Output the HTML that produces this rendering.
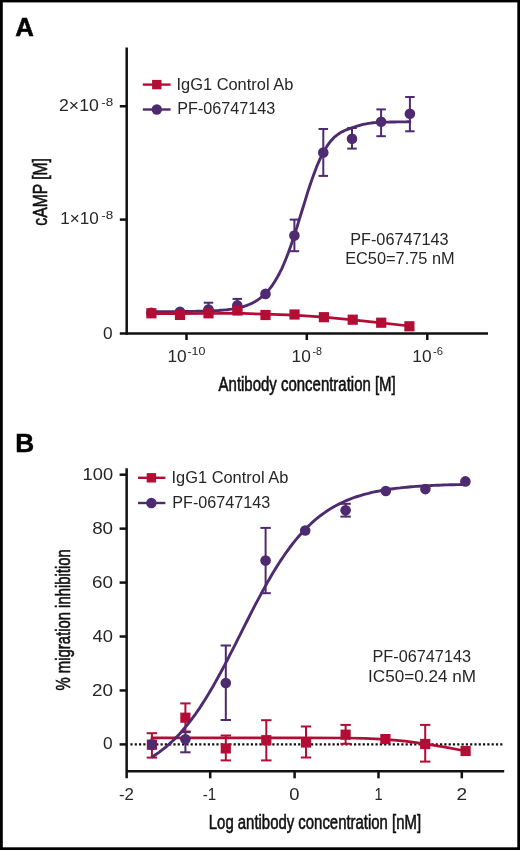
<!DOCTYPE html>
<html lang="en"><head><meta charset="utf-8"><title>Figure</title>
<style>
html,body{margin:0;padding:0;background:#000;}
body{width:520px;height:850px;overflow:hidden;}
svg{display:block;}
text{font-family:"Liberation Sans",Arial,Helvetica,sans-serif;fill:#262626;}
.t{font-size:15px;}
.s{font-size:11px;}
.c{font-size:19px;fill:#111;stroke:#111;stroke-width:0.6px;}
.p{font-size:25px;font-weight:bold;fill:#000;stroke:#000;stroke-width:0.5px;}
</style></head><body>
<svg width="520" height="850" viewBox="0 0 520 850" style="will-change:transform">
<rect x="0" y="0" width="520" height="850" fill="#000"/>
<rect x="2.8" y="2.4" width="514.5" height="844.9" fill="#fff"/>

<text class="p" style="font-size:25px" x="15.35" y="35.8" textLength="18.65" lengthAdjust="spacingAndGlyphs">A</text>
<line x1="208.5" y1="302.7" x2="208.5" y2="313" stroke="#4E2A70" stroke-width="2"/>
<line x1="203.75" y1="302.7" x2="213.25" y2="302.7" stroke="#4E2A70" stroke-width="2"/>
<line x1="203.75" y1="313" x2="213.25" y2="313" stroke="#4E2A70" stroke-width="2"/>
<line x1="237.3" y1="298.9" x2="237.3" y2="311" stroke="#4E2A70" stroke-width="2"/>
<line x1="232.55" y1="298.9" x2="242.05" y2="298.9" stroke="#4E2A70" stroke-width="2"/>
<line x1="232.55" y1="311" x2="242.05" y2="311" stroke="#4E2A70" stroke-width="2"/>
<line x1="294.4" y1="219.6" x2="294.4" y2="251.2" stroke="#4E2A70" stroke-width="2"/>
<line x1="289.65" y1="219.6" x2="299.15" y2="219.6" stroke="#4E2A70" stroke-width="2"/>
<line x1="289.65" y1="251.2" x2="299.15" y2="251.2" stroke="#4E2A70" stroke-width="2"/>
<line x1="323.3" y1="129" x2="323.3" y2="175.9" stroke="#4E2A70" stroke-width="2"/>
<line x1="318.55" y1="129" x2="328.05" y2="129" stroke="#4E2A70" stroke-width="2"/>
<line x1="318.55" y1="175.9" x2="328.05" y2="175.9" stroke="#4E2A70" stroke-width="2"/>
<line x1="352" y1="128" x2="352" y2="148.6" stroke="#4E2A70" stroke-width="2"/>
<line x1="347.25" y1="128" x2="356.75" y2="128" stroke="#4E2A70" stroke-width="2"/>
<line x1="347.25" y1="148.6" x2="356.75" y2="148.6" stroke="#4E2A70" stroke-width="2"/>
<line x1="381.1" y1="109.4" x2="381.1" y2="136.2" stroke="#4E2A70" stroke-width="2"/>
<line x1="376.35" y1="109.4" x2="385.85" y2="109.4" stroke="#4E2A70" stroke-width="2"/>
<line x1="376.35" y1="136.2" x2="385.85" y2="136.2" stroke="#4E2A70" stroke-width="2"/>
<line x1="409.9" y1="97" x2="409.9" y2="131.3" stroke="#4E2A70" stroke-width="2"/>
<line x1="405.15" y1="97" x2="414.65" y2="97" stroke="#4E2A70" stroke-width="2"/>
<line x1="405.15" y1="131.3" x2="414.65" y2="131.3" stroke="#4E2A70" stroke-width="2"/>
<polyline points="151.2,311.7 153.4,311.7 155.6,311.7 157.8,311.7 159.9,311.7 162.1,311.6 164.3,311.6 166.5,311.6 168.6,311.6 170.8,311.6 173.0,311.6 175.2,311.6 177.3,311.6 179.5,311.6 181.7,311.5 183.9,311.5 186.0,311.5 188.2,311.5 190.4,311.5 192.5,311.4 194.7,311.4 196.9,311.3 199.1,311.3 201.2,311.2 203.4,311.2 205.6,311.1 207.8,311.0 209.9,311.0 212.1,310.9 214.3,310.7 216.5,310.6 218.6,310.5 220.8,310.3 223.0,310.1 225.1,309.9 227.3,309.7 229.5,309.4 231.7,309.1 233.8,308.7 236.0,308.3 238.2,307.9 240.4,307.4 242.5,306.8 244.7,306.1 246.9,305.4 249.1,304.5 251.2,303.6 253.4,302.5 255.6,301.3 257.8,299.9 259.9,298.4 262.1,296.6 264.3,294.7 266.4,292.5 268.6,290.1 270.8,287.4 273.0,284.3 275.1,281.0 277.3,277.3 279.5,273.2 281.7,268.8 283.8,264.0 286.0,258.7 288.2,253.1 290.4,247.1 292.5,240.8 294.7,234.2 296.9,227.4 299.0,220.4 301.2,213.3 303.4,206.2 305.6,199.1 307.7,192.2 309.9,185.5 312.1,179.1 314.3,173.1 316.4,167.4 318.6,162.2 320.8,157.4 323.0,153.1 325.1,149.2 327.3,145.7 329.5,142.7 331.7,140.0 333.8,137.7 336.0,135.8 338.2,134.2 340.3,132.8 342.5,131.6 344.7,130.5 346.9,129.6 349.0,128.8 351.2,128.0 353.4,127.3 355.6,126.6 357.7,125.9 359.9,125.3 362.1,124.7 364.3,124.2 366.4,123.8 368.6,123.4 370.8,123.1 372.9,122.8 375.1,122.6 377.3,122.5 379.5,122.4 381.6,122.3 383.8,122.2 386.0,122.1 388.2,122.1 390.3,122.0 392.5,122.0 394.7,122.0 396.9,121.9 399.0,121.9 401.2,121.9 403.4,121.9 405.6,121.9 407.7,121.8 409.9,121.8" fill="none" stroke="#4E2A70" stroke-width="2.9" stroke-linejoin="round" stroke-linecap="round"/>
<circle cx="151.4" cy="312.8" r="5.3" fill="#4E2A70"/>
<circle cx="180" cy="311.7" r="5.3" fill="#4E2A70"/>
<circle cx="208.5" cy="309.6" r="5.3" fill="#4E2A70"/>
<circle cx="237.3" cy="305.4" r="5.3" fill="#4E2A70"/>
<circle cx="265.5" cy="293.9" r="5.3" fill="#4E2A70"/>
<circle cx="294.4" cy="235.6" r="5.3" fill="#4E2A70"/>
<circle cx="323.3" cy="152.6" r="5.3" fill="#4E2A70"/>
<circle cx="352" cy="138.8" r="5.3" fill="#4E2A70"/>
<circle cx="381.1" cy="121.8" r="5.3" fill="#4E2A70"/>
<circle cx="409.9" cy="113.7" r="5.3" fill="#4E2A70"/>
<polyline points="151.2,313.6 180.0,313.7 208.5,313.5 236.5,313.2 265.5,314.2 294.5,315.2 323.9,317.2 352.7,319.8 381.2,322.8 409.4,326.0" fill="none" stroke="#B30D36" stroke-width="2.7" stroke-linejoin="round" stroke-linecap="round"/>
<rect x="146.30" y="308.20" width="10.2" height="10.2" fill="#B30D36"/>
<rect x="174.90" y="309.80" width="10.2" height="10.2" fill="#B30D36"/>
<rect x="203.40" y="308.20" width="10.2" height="10.2" fill="#B30D36"/>
<rect x="232.40" y="305.40" width="10.2" height="10.2" fill="#B30D36"/>
<rect x="260.40" y="309.90" width="10.2" height="10.2" fill="#B30D36"/>
<rect x="289.40" y="309.40" width="10.2" height="10.2" fill="#B30D36"/>
<rect x="318.80" y="312.10" width="10.2" height="10.2" fill="#B30D36"/>
<rect x="347.60" y="314.60" width="10.2" height="10.2" fill="#B30D36"/>
<rect x="376.10" y="317.60" width="10.2" height="10.2" fill="#B30D36"/>
<rect x="404.30" y="321.20" width="10.2" height="10.2" fill="#B30D36"/>
<line x1="126.7" y1="47.5" x2="126.7" y2="334.75" stroke="#111" stroke-width="2.5"/>
<line x1="119.8" y1="333.5" x2="488" y2="333.5" stroke="#111" stroke-width="2.5"/>
<line x1="119.8" y1="106.25" x2="126.7" y2="106.25" stroke="#111" stroke-width="2.5"/>
<line x1="119.8" y1="219.6" x2="126.7" y2="219.6" stroke="#111" stroke-width="2.5"/>
<line x1="186.5" y1="333.5" x2="186.5" y2="340" stroke="#111" stroke-width="2.5"/>
<line x1="306.8" y1="333.5" x2="306.8" y2="340" stroke="#111" stroke-width="2.5"/>
<line x1="427.3" y1="333.5" x2="427.3" y2="340" stroke="#111" stroke-width="2.5"/>
<text class="t" style="font-size:15.6px" x="59.02" y="111.0" textLength="39.74" lengthAdjust="spacingAndGlyphs">2×10</text>
<text class="s" style="font-size:10.6px" x="101.30" y="106.0" textLength="11.93" lengthAdjust="spacingAndGlyphs">-8</text>
<text class="t" style="font-size:15.6px" x="60.22" y="224.4" textLength="38.52" lengthAdjust="spacingAndGlyphs">1×10</text>
<text class="s" style="font-size:10.6px" x="101.30" y="219.4" textLength="11.93" lengthAdjust="spacingAndGlyphs">-8</text>
<text class="t" style="font-size:15.6px" x="102.91" y="338.7" textLength="9.62" lengthAdjust="spacingAndGlyphs">0</text>
<text class="t" style="font-size:16px" x="167.40" y="362.1" textLength="19.24" lengthAdjust="spacingAndGlyphs">10</text>
<text class="s" style="font-size:10.6px" x="187.44" y="354.70000000000005" textLength="18.00" lengthAdjust="spacingAndGlyphs">-10</text>
<text class="t" style="font-size:16px" x="291.60" y="362.1" textLength="19.24" lengthAdjust="spacingAndGlyphs">10</text>
<text class="s" style="font-size:10.6px" x="312.42" y="354.70000000000005" textLength="9.50" lengthAdjust="spacingAndGlyphs">-8</text>
<text class="t" style="font-size:16px" x="412.30" y="362.1" textLength="19.24" lengthAdjust="spacingAndGlyphs">10</text>
<text class="s" style="font-size:10.6px" x="433.00" y="354.70000000000005" textLength="9.94" lengthAdjust="spacingAndGlyphs">-6</text>
<text class="c" style="font-size:19.6px" x="218.60" y="390.7" textLength="177.12" lengthAdjust="spacingAndGlyphs">Antibody concentration [M]</text>
<text class="c" style="font-size:19.6px" transform="translate(46.8,225) rotate(-90)" x="-0.63" y="0" textLength="67.53" lengthAdjust="spacingAndGlyphs">cAMP [M]</text>
<line x1="142.8" y1="84.6" x2="170.6" y2="84.6" stroke="#B30D36" stroke-width="2.4"/>
<rect x="152.10" y="79.90" width="9.4" height="9.4" fill="#B30D36"/>
<line x1="142.8" y1="109.5" x2="170.6" y2="109.5" stroke="#4E2A70" stroke-width="2.4"/>
<circle cx="156.8" cy="109.5" r="5.2" fill="#4E2A70"/>
<text class="t" style="font-size:16px" x="176.52" y="90" textLength="116.74" lengthAdjust="spacingAndGlyphs">IgG1 Control Ab</text>
<text class="t" style="font-size:16px" x="177.31" y="114.2" textLength="97.94" lengthAdjust="spacingAndGlyphs">PF-06747143</text>
<text class="t" style="font-size:16px" x="350.20" y="244.5" textLength="98.45" lengthAdjust="spacingAndGlyphs">PF-06747143</text>
<text class="t" style="font-size:16px" x="345.19" y="263.5" textLength="109.38" lengthAdjust="spacingAndGlyphs">EC50=7.75 nM</text>
<text class="p" style="font-size:25px" x="15.20" y="451.9" textLength="18.94" lengthAdjust="spacingAndGlyphs">B</text>
<line x1="130.4" y1="744.4" x2="503" y2="744.4" stroke="#111" stroke-width="2.2" stroke-dasharray="2.2 2.1"/>
<line x1="151.9" y1="733.2" x2="151.9" y2="757.6" stroke="#B30D36" stroke-width="2"/>
<line x1="146.70000000000002" y1="733.2" x2="157.1" y2="733.2" stroke="#B30D36" stroke-width="2"/>
<line x1="146.70000000000002" y1="757.6" x2="157.1" y2="757.6" stroke="#B30D36" stroke-width="2"/>
<line x1="185.4" y1="703.4" x2="185.4" y2="731.5" stroke="#B30D36" stroke-width="2"/>
<line x1="180.20000000000002" y1="703.4" x2="190.6" y2="703.4" stroke="#B30D36" stroke-width="2"/>
<line x1="180.20000000000002" y1="731.5" x2="190.6" y2="731.5" stroke="#B30D36" stroke-width="2"/>
<line x1="225.8" y1="735.5" x2="225.8" y2="760.4" stroke="#B30D36" stroke-width="2"/>
<line x1="220.60000000000002" y1="735.5" x2="231.0" y2="735.5" stroke="#B30D36" stroke-width="2"/>
<line x1="220.60000000000002" y1="760.4" x2="231.0" y2="760.4" stroke="#B30D36" stroke-width="2"/>
<line x1="266.3" y1="720.2" x2="266.3" y2="760.4" stroke="#B30D36" stroke-width="2"/>
<line x1="261.1" y1="720.2" x2="271.5" y2="720.2" stroke="#B30D36" stroke-width="2"/>
<line x1="261.1" y1="760.4" x2="271.5" y2="760.4" stroke="#B30D36" stroke-width="2"/>
<line x1="306" y1="726.5" x2="306" y2="757.5" stroke="#B30D36" stroke-width="2"/>
<line x1="300.8" y1="726.5" x2="311.2" y2="726.5" stroke="#B30D36" stroke-width="2"/>
<line x1="300.8" y1="757.5" x2="311.2" y2="757.5" stroke="#B30D36" stroke-width="2"/>
<line x1="345.6" y1="724.9" x2="345.6" y2="743.8" stroke="#B30D36" stroke-width="2"/>
<line x1="340.40000000000003" y1="724.9" x2="350.8" y2="724.9" stroke="#B30D36" stroke-width="2"/>
<line x1="340.40000000000003" y1="743.8" x2="350.8" y2="743.8" stroke="#B30D36" stroke-width="2"/>
<line x1="425.2" y1="724.9" x2="425.2" y2="761.6" stroke="#B30D36" stroke-width="2"/>
<line x1="420.0" y1="724.9" x2="430.4" y2="724.9" stroke="#B30D36" stroke-width="2"/>
<line x1="420.0" y1="761.6" x2="430.4" y2="761.6" stroke="#B30D36" stroke-width="2"/>
<polyline points="151.9,737.9 306.0,737.9 345.6,738.0 365.0,738.4 385.4,739.4 405.0,741.2 425.2,743.9 445.0,747.2 465.6,751.0" fill="none" stroke="#B30D36" stroke-width="2.7" stroke-linejoin="round" stroke-linecap="round"/>
<rect x="146.80" y="739.60" width="10.2" height="10.2" fill="#B30D36"/>
<rect x="180.30" y="712.60" width="10.2" height="10.2" fill="#B30D36"/>
<rect x="220.70" y="743.30" width="10.2" height="10.2" fill="#B30D36"/>
<rect x="261.20" y="735.10" width="10.2" height="10.2" fill="#B30D36"/>
<rect x="300.90" y="737.40" width="10.2" height="10.2" fill="#B30D36"/>
<rect x="340.50" y="729.60" width="10.2" height="10.2" fill="#B30D36"/>
<rect x="380.30" y="734.00" width="10.2" height="10.2" fill="#B30D36"/>
<rect x="420.10" y="738.90" width="10.2" height="10.2" fill="#B30D36"/>
<rect x="460.50" y="745.90" width="10.2" height="10.2" fill="#B30D36"/>
<line x1="185.4" y1="732.2" x2="185.4" y2="752.3" stroke="#4E2A70" stroke-width="2"/>
<line x1="180.20000000000002" y1="732.2" x2="190.6" y2="732.2" stroke="#4E2A70" stroke-width="2"/>
<line x1="180.20000000000002" y1="752.3" x2="190.6" y2="752.3" stroke="#4E2A70" stroke-width="2"/>
<line x1="225.8" y1="645.5" x2="225.8" y2="720" stroke="#4E2A70" stroke-width="2"/>
<line x1="220.60000000000002" y1="645.5" x2="231.0" y2="645.5" stroke="#4E2A70" stroke-width="2"/>
<line x1="220.60000000000002" y1="720" x2="231.0" y2="720" stroke="#4E2A70" stroke-width="2"/>
<line x1="265.6" y1="527.9" x2="265.6" y2="593.2" stroke="#4E2A70" stroke-width="2"/>
<line x1="260.40000000000003" y1="527.9" x2="270.8" y2="527.9" stroke="#4E2A70" stroke-width="2"/>
<line x1="260.40000000000003" y1="593.2" x2="270.8" y2="593.2" stroke="#4E2A70" stroke-width="2"/>
<line x1="345.6" y1="503.8" x2="345.6" y2="516.6" stroke="#4E2A70" stroke-width="2"/>
<line x1="340.40000000000003" y1="503.8" x2="350.8" y2="503.8" stroke="#4E2A70" stroke-width="2"/>
<line x1="340.40000000000003" y1="516.6" x2="350.8" y2="516.6" stroke="#4E2A70" stroke-width="2"/>
<polyline points="152.5,756.7 154.8,755.2 157.0,753.7 159.3,752.1 161.5,750.4 163.8,748.7 166.0,746.8 168.3,744.9 170.5,742.9 172.8,740.8 175.0,738.6 177.3,736.3 179.5,733.9 181.8,731.4 184.0,728.8 186.3,726.1 188.5,723.3 190.8,720.4 193.0,717.4 195.3,714.3 197.5,711.1 199.8,707.8 202.0,704.4 204.3,700.8 206.5,697.2 208.8,693.5 211.0,689.7 213.3,685.9 215.5,681.9 217.8,677.8 220.0,673.7 222.3,669.5 224.5,665.3 226.8,661.0 229.0,656.6 231.3,652.2 233.5,647.8 235.8,643.4 238.0,638.9 240.3,634.4 242.5,629.9 244.8,625.4 247.0,621.0 249.3,616.5 251.5,612.1 253.8,607.7 256.0,603.4 258.3,599.1 260.6,594.9 262.8,590.7 265.1,586.6 267.3,582.6 269.6,578.7 271.8,574.8 274.1,571.1 276.3,567.4 278.6,563.8 280.8,560.4 283.1,557.0 285.3,553.7 287.6,550.6 289.8,547.5 292.1,544.5 294.3,541.7 296.6,538.9 298.8,536.3 301.1,533.7 303.3,531.3 305.6,528.9 307.8,526.6 310.1,524.5 312.3,522.4 314.6,520.4 316.8,518.5 319.1,516.7 321.3,515.0 323.6,513.4 325.8,511.8 328.1,510.3 330.3,508.9 332.6,507.5 334.8,506.2 337.1,505.0 339.3,503.9 341.6,502.7 343.8,501.7 346.1,500.7 348.3,499.8 350.6,498.9 352.8,498.0 355.1,497.2 357.3,496.5 359.6,495.8 361.9,495.1 364.1,494.4 366.4,493.8 368.6,493.3 370.9,492.7 373.1,492.2 375.4,491.7 377.6,491.3 379.9,490.8 382.1,490.4 384.4,490.0 386.6,489.7 388.9,489.3 391.1,489.0 393.4,488.7 395.6,488.4 397.9,488.1 400.1,487.9 402.4,487.6 404.6,487.4 406.9,487.2 409.1,487.0 411.4,486.8 413.6,486.6 415.9,486.4 418.1,486.3 420.4,486.1 422.6,486.0 424.9,485.9 427.1,485.7 429.4,485.6 431.6,485.5 433.9,485.4 436.1,485.3 438.4,485.2 440.6,485.1 442.9,485.0 445.1,484.9 447.4,484.9 449.6,484.8 451.9,484.7 454.1,484.7 456.4,484.6 458.6,484.6 460.9,484.5 463.1,484.5 465.4,484.4" fill="none" stroke="#4E2A70" stroke-width="2.9" stroke-linejoin="round" stroke-linecap="round"/>
<circle cx="185.4" cy="739.2" r="5.3" fill="#4E2A70"/>
<circle cx="225.8" cy="683" r="5.3" fill="#4E2A70"/>
<circle cx="265.6" cy="560.6" r="5.3" fill="#4E2A70"/>
<circle cx="305.2" cy="530.5" r="5.3" fill="#4E2A70"/>
<circle cx="345.6" cy="510.2" r="5.3" fill="#4E2A70"/>
<circle cx="385.8" cy="491" r="5.3" fill="#4E2A70"/>
<circle cx="425.4" cy="489.1" r="5.3" fill="#4E2A70"/>
<circle cx="465.4" cy="481.4" r="5.3" fill="#4E2A70"/>
<rect x="147.3" y="739.5" width="9.4" height="10.2" rx="3" fill="#4E2A70"/>
<line x1="126.65" y1="468.2" x2="126.65" y2="778.3" stroke="#111" stroke-width="2.5"/>
<line x1="126.65" y1="771.35" x2="504.2" y2="771.35" stroke="#111" stroke-width="2.5"/>
<line x1="119.6" y1="474.7" x2="126.65" y2="474.7" stroke="#111" stroke-width="2.5"/>
<line x1="119.6" y1="528.64" x2="126.65" y2="528.64" stroke="#111" stroke-width="2.5"/>
<line x1="119.6" y1="582.5799999999999" x2="126.65" y2="582.5799999999999" stroke="#111" stroke-width="2.5"/>
<line x1="119.6" y1="636.52" x2="126.65" y2="636.52" stroke="#111" stroke-width="2.5"/>
<line x1="119.6" y1="690.46" x2="126.65" y2="690.46" stroke="#111" stroke-width="2.5"/>
<line x1="119.6" y1="744.4" x2="126.65" y2="744.4" stroke="#111" stroke-width="2.5"/>
<line x1="210.2" y1="771.35" x2="210.2" y2="778.3" stroke="#111" stroke-width="2.5"/>
<line x1="294.6" y1="771.35" x2="294.6" y2="778.3" stroke="#111" stroke-width="2.5"/>
<line x1="378.5" y1="771.35" x2="378.5" y2="778.3" stroke="#111" stroke-width="2.5"/>
<line x1="461.8" y1="771.35" x2="461.8" y2="778.3" stroke="#111" stroke-width="2.5"/>
<text class="t" style="font-size:15.8px" x="82.63" y="479.7" textLength="30.47" lengthAdjust="spacingAndGlyphs">100</text>
<text class="t" style="font-size:15.8px" x="92.15" y="533.6" textLength="20.95" lengthAdjust="spacingAndGlyphs">80</text>
<text class="t" style="font-size:15.8px" x="92.05" y="587.6" textLength="21.05" lengthAdjust="spacingAndGlyphs">60</text>
<text class="t" style="font-size:15.8px" x="92.63" y="641.5" textLength="20.45" lengthAdjust="spacingAndGlyphs">40</text>
<text class="t" style="font-size:15.8px" x="92.05" y="695.5" textLength="21.05" lengthAdjust="spacingAndGlyphs">20</text>
<text class="t" style="font-size:15.8px" x="102.91" y="749.4" textLength="9.62" lengthAdjust="spacingAndGlyphs">0</text>
<text class="t" style="font-size:15.8px" x="118.94" y="799.8" textLength="14.99" lengthAdjust="spacingAndGlyphs">-2</text>
<text class="t" style="font-size:15.8px" x="202.82" y="799.8" textLength="13.45" lengthAdjust="spacingAndGlyphs">-1</text>
<text class="t" style="font-size:15.8px" x="289.27" y="799.8" textLength="10.20" lengthAdjust="spacingAndGlyphs">0</text>
<text class="t" style="font-size:15.8px" x="374.50" y="799.8" textLength="8.18" lengthAdjust="spacingAndGlyphs">1</text>
<text class="t" style="font-size:15.8px" x="456.54" y="799.8" textLength="10.63" lengthAdjust="spacingAndGlyphs">2</text>
<text class="c" style="font-size:19.6px" x="208.81" y="829.3" textLength="212.26" lengthAdjust="spacingAndGlyphs">Log antibody concentration [nM]</text>
<text class="c" style="font-size:19.6px" transform="translate(70,690) rotate(-90)" x="-0.52" y="0" textLength="141.29" lengthAdjust="spacingAndGlyphs">% migration inhibition</text>
<line x1="138" y1="477.8" x2="165.4" y2="477.8" stroke="#B30D36" stroke-width="2.4"/>
<rect x="146.70" y="473.10" width="9.4" height="9.4" fill="#B30D36"/>
<line x1="138" y1="503" x2="165.4" y2="503" stroke="#4E2A70" stroke-width="2.4"/>
<circle cx="151.4" cy="503" r="5.2" fill="#4E2A70"/>
<text class="t" style="font-size:16px" x="171.52" y="482.6" textLength="116.74" lengthAdjust="spacingAndGlyphs">IgG1 Control Ab</text>
<text class="t" style="font-size:16px" x="172.31" y="507.8" textLength="97.94" lengthAdjust="spacingAndGlyphs">PF-06747143</text>
<text class="t" style="font-size:16px" x="372.50" y="662" textLength="98.56" lengthAdjust="spacingAndGlyphs">PF-06747143</text>
<text class="t" style="font-size:16px" x="368.06" y="681.8" textLength="107.99" lengthAdjust="spacingAndGlyphs">IC50=0.24 nM</text>
</svg></body></html>
